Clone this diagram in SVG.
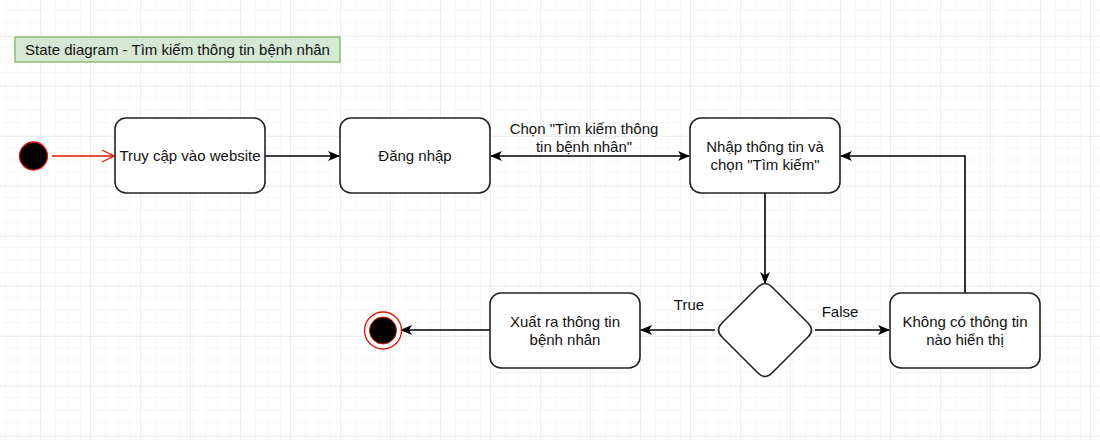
<svg xmlns="http://www.w3.org/2000/svg" width="1100" height="440" viewBox="0 0 1100 440">
  <defs>
    <pattern id="minor" patternUnits="userSpaceOnUse" x="2.5" y="-1.5" width="12.5" height="12.5">
      <path d="M12.5,0 L0,0 L0,12.5" fill="none" stroke="#f0f0f0" stroke-width="1"/>
    </pattern>
    <pattern id="major" patternUnits="userSpaceOnUse" x="40" y="36" width="50" height="50">
      <rect width="50" height="50" fill="url(#minor)"/>
      <path d="M50,0 L0,0 L0,50" fill="none" stroke="#dedede" stroke-width="1"/>
    </pattern>
    <marker id="arrow" viewBox="0 0 12 10" refX="11" refY="5" markerWidth="12" markerHeight="10" markerUnits="userSpaceOnUse" orient="auto-start-reverse">
      <path d="M0,0 L12,5 L0,10 L3,5 Z" fill="#000"/>
    </marker>
    <marker id="open" viewBox="0 0 14 14" refX="13" refY="7" markerWidth="14" markerHeight="14" markerUnits="userSpaceOnUse" orient="auto">
      <path d="M1,1 L13,7 L1,13" fill="none" stroke="#e51400" stroke-width="1.3"/>
    </marker>
  </defs>
  <style>
    text { font-family: "Liberation Sans", Arial, sans-serif; font-size: 15px; fill: #111; }
    .state { fill: #fff; stroke: #222; stroke-width: 1.6; }
    .edge { fill: none; stroke: #000; stroke-width: 1.6; }
    .c { text-anchor: middle; }
  </style>
  <rect width="1100" height="440" fill="#fff"/>
  <rect width="1100" height="440" fill="url(#major)"/>

  <g id="title">
    <rect x="15" y="37" width="325" height="25" fill="#d5e8d4" stroke="#82b366" stroke-width="1.3"/>
    <text x="177.5" y="54.5" class="c">State diagram - Tìm kiếm thông tin bệnh nhân</text>
  </g>

  <g id="connectors">
    <path d="M52,156 L114,156" fill="none" stroke="#e51400" stroke-width="1.3" marker-end="url(#open)"/>
    <path class="edge" d="M265,156 L339,156" marker-end="url(#arrow)"/>
    <path class="edge" d="M491,156 L689,156" marker-start="url(#arrow)" marker-end="url(#arrow)"/>
    <path class="edge" d="M765,193 L765,283" marker-end="url(#arrow)"/>
    <path class="edge" d="M715,330 L641,330" marker-end="url(#arrow)"/>
    <path class="edge" d="M815,330 L889,330" marker-end="url(#arrow)"/>
    <path class="edge" d="M965,293 L965,156 L841,156" marker-end="url(#arrow)"/>
    <path class="edge" d="M490,330 L401,330" marker-end="url(#arrow)"/>
    <text x="584" y="134" class="c">Chọn "Tìm kiếm thông</text>
    <text x="584" y="152" class="c">tin bệnh nhân"</text>
    <text x="689" y="310" class="c">True</text>
    <text x="840" y="317" class="c">False</text>
  </g>

  <g id="start">
    <circle cx="33.5" cy="156" r="14" fill="#000" stroke="#e51400" stroke-width="1.3"/>
  </g>

  <g id="truy-cap">
    <rect class="state" x="115" y="118" width="150" height="75" rx="11"/>
    <text x="190" y="161" class="c">Truy cập vào website</text>
  </g>

  <g id="dang-nhap">
    <rect class="state" x="340" y="118" width="150" height="75" rx="11"/>
    <text x="415" y="161" class="c">Đăng nhập</text>
  </g>

  <g id="nhap-thong-tin">
    <rect class="state" x="690" y="118" width="150" height="75" rx="11"/>
    <text x="765" y="152" class="c">Nhập thông tin và</text>
    <text x="765" y="170" class="c">chọn "Tìm kiếm"</text>
  </g>

  <g id="decision">
    <path class="state" d="M758,287 Q765,280 772,287 L808,323 Q815,330 808,337 L772,373 Q765,380 758,373 L722,337 Q715,330 722,323 Z"/>
  </g>

  <g id="xuat-ra">
    <rect class="state" x="490" y="293" width="150" height="75" rx="11"/>
    <text x="565" y="327" class="c">Xuất ra thông tin</text>
    <text x="565" y="345" class="c">bệnh nhân</text>
  </g>

  <g id="khong-co">
    <rect class="state" x="890" y="293" width="150" height="75" rx="11"/>
    <text x="965" y="327" class="c">Không có thông tin</text>
    <text x="965" y="345" class="c">nào hiển thị</text>
  </g>

  <g id="end">
    <circle cx="383" cy="330.5" r="18.5" fill="#fff" stroke="#e51400" stroke-width="1.3"/>
    <circle cx="383" cy="330.5" r="13.5" fill="#000" stroke="#e51400" stroke-width="1"/>
  </g>
</svg>
